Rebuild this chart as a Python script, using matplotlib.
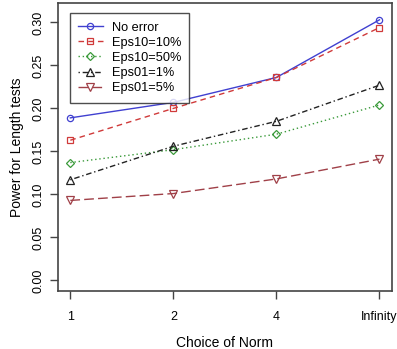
import matplotlib
matplotlib.use("Agg")
import matplotlib.pyplot as plt
import numpy as np

plt.rcParams['font.family'] = ['Liberation Sans', 'DejaVu Sans']

# data
norms = ["1", "2", "4", "Infinity"]
no_error = [0.189, 0.207, 0.236, 0.303]
eps10_10 = [0.163, 0.200, 0.236, 0.294]
eps10_50 = [0.137, 0.152, 0.170, 0.204]
eps01_1 = [0.117, 0.156, 0.185, 0.227]
eps01_5 = [0.093, 0.101, 0.118, 0.141]

series = [
    ("No error", no_error, "#4040d0", "-", "o", 4.5),
    ("Eps10=10%", eps10_10, "#d03a3a", (0, (4, 3)), "s", 4.5),
    ("Eps10=50%", eps10_50, "#3a9a3a", (0, (1, 2)), "D", 4.2),
    ("Eps01=1%", eps01_1, "#222222", (0, (1, 2, 4, 2)), "^", 5.5),
    ("Eps01=5%", eps01_5, "#a04048", (0, (7, 3)), "v", 5.5),
]

fig = plt.figure(figsize=(3.97, 3.49), dpi=100)
ax = fig.add_axes([0.146, 0.166, 0.841, 0.825])

x = np.arange(1, len(norms) + 1)
for label, vals, col, ls, mk, ms in series:
    ax.plot(x, vals, color=col, linestyle=ls, linewidth=1, marker=mk,
            markersize=ms, markerfacecolor="none", markeredgecolor=col,
            markeredgewidth=0.9, label=label)

ax.set_xlim(0.88, 4.12)
ax.set_ylim(-0.0124, 0.3224)
ax.set_xticks(x)
ax.set_xticklabels(norms)
ax.set_yticks([0.0, 0.05, 0.10, 0.15, 0.20, 0.25, 0.30])
ax.set_yticklabels(["0.00", "0.05", "0.10", "0.15", "0.20", "0.25", "0.30"],
                   rotation=90, va="center")
ax.tick_params(axis="both", labelsize=9, length=6, width=1, color="#444444",
               direction="out")
ax.tick_params(axis="x", pad=8)
ax.tick_params(axis="y", pad=4)
for s in ax.spines.values():
    s.set_color("#444444")
    s.set_linewidth(1.2)

ax.set_xlabel("Choice of Norm", fontsize=10, labelpad=10)
ax.set_ylabel("Power for Length tests", fontsize=10, labelpad=6)

leg = ax.legend(loc="upper left", bbox_to_anchor=(0.036, 0.965), fontsize=9.2,
                frameon=True, fancybox=False, edgecolor="#222222",
                borderaxespad=0, handlelength=1.9, borderpad=0.65,
                labelspacing=0.25, handletextpad=0.7)
leg.get_frame().set_linewidth(1.0)

fig.savefig("out.png", dpi=100)
